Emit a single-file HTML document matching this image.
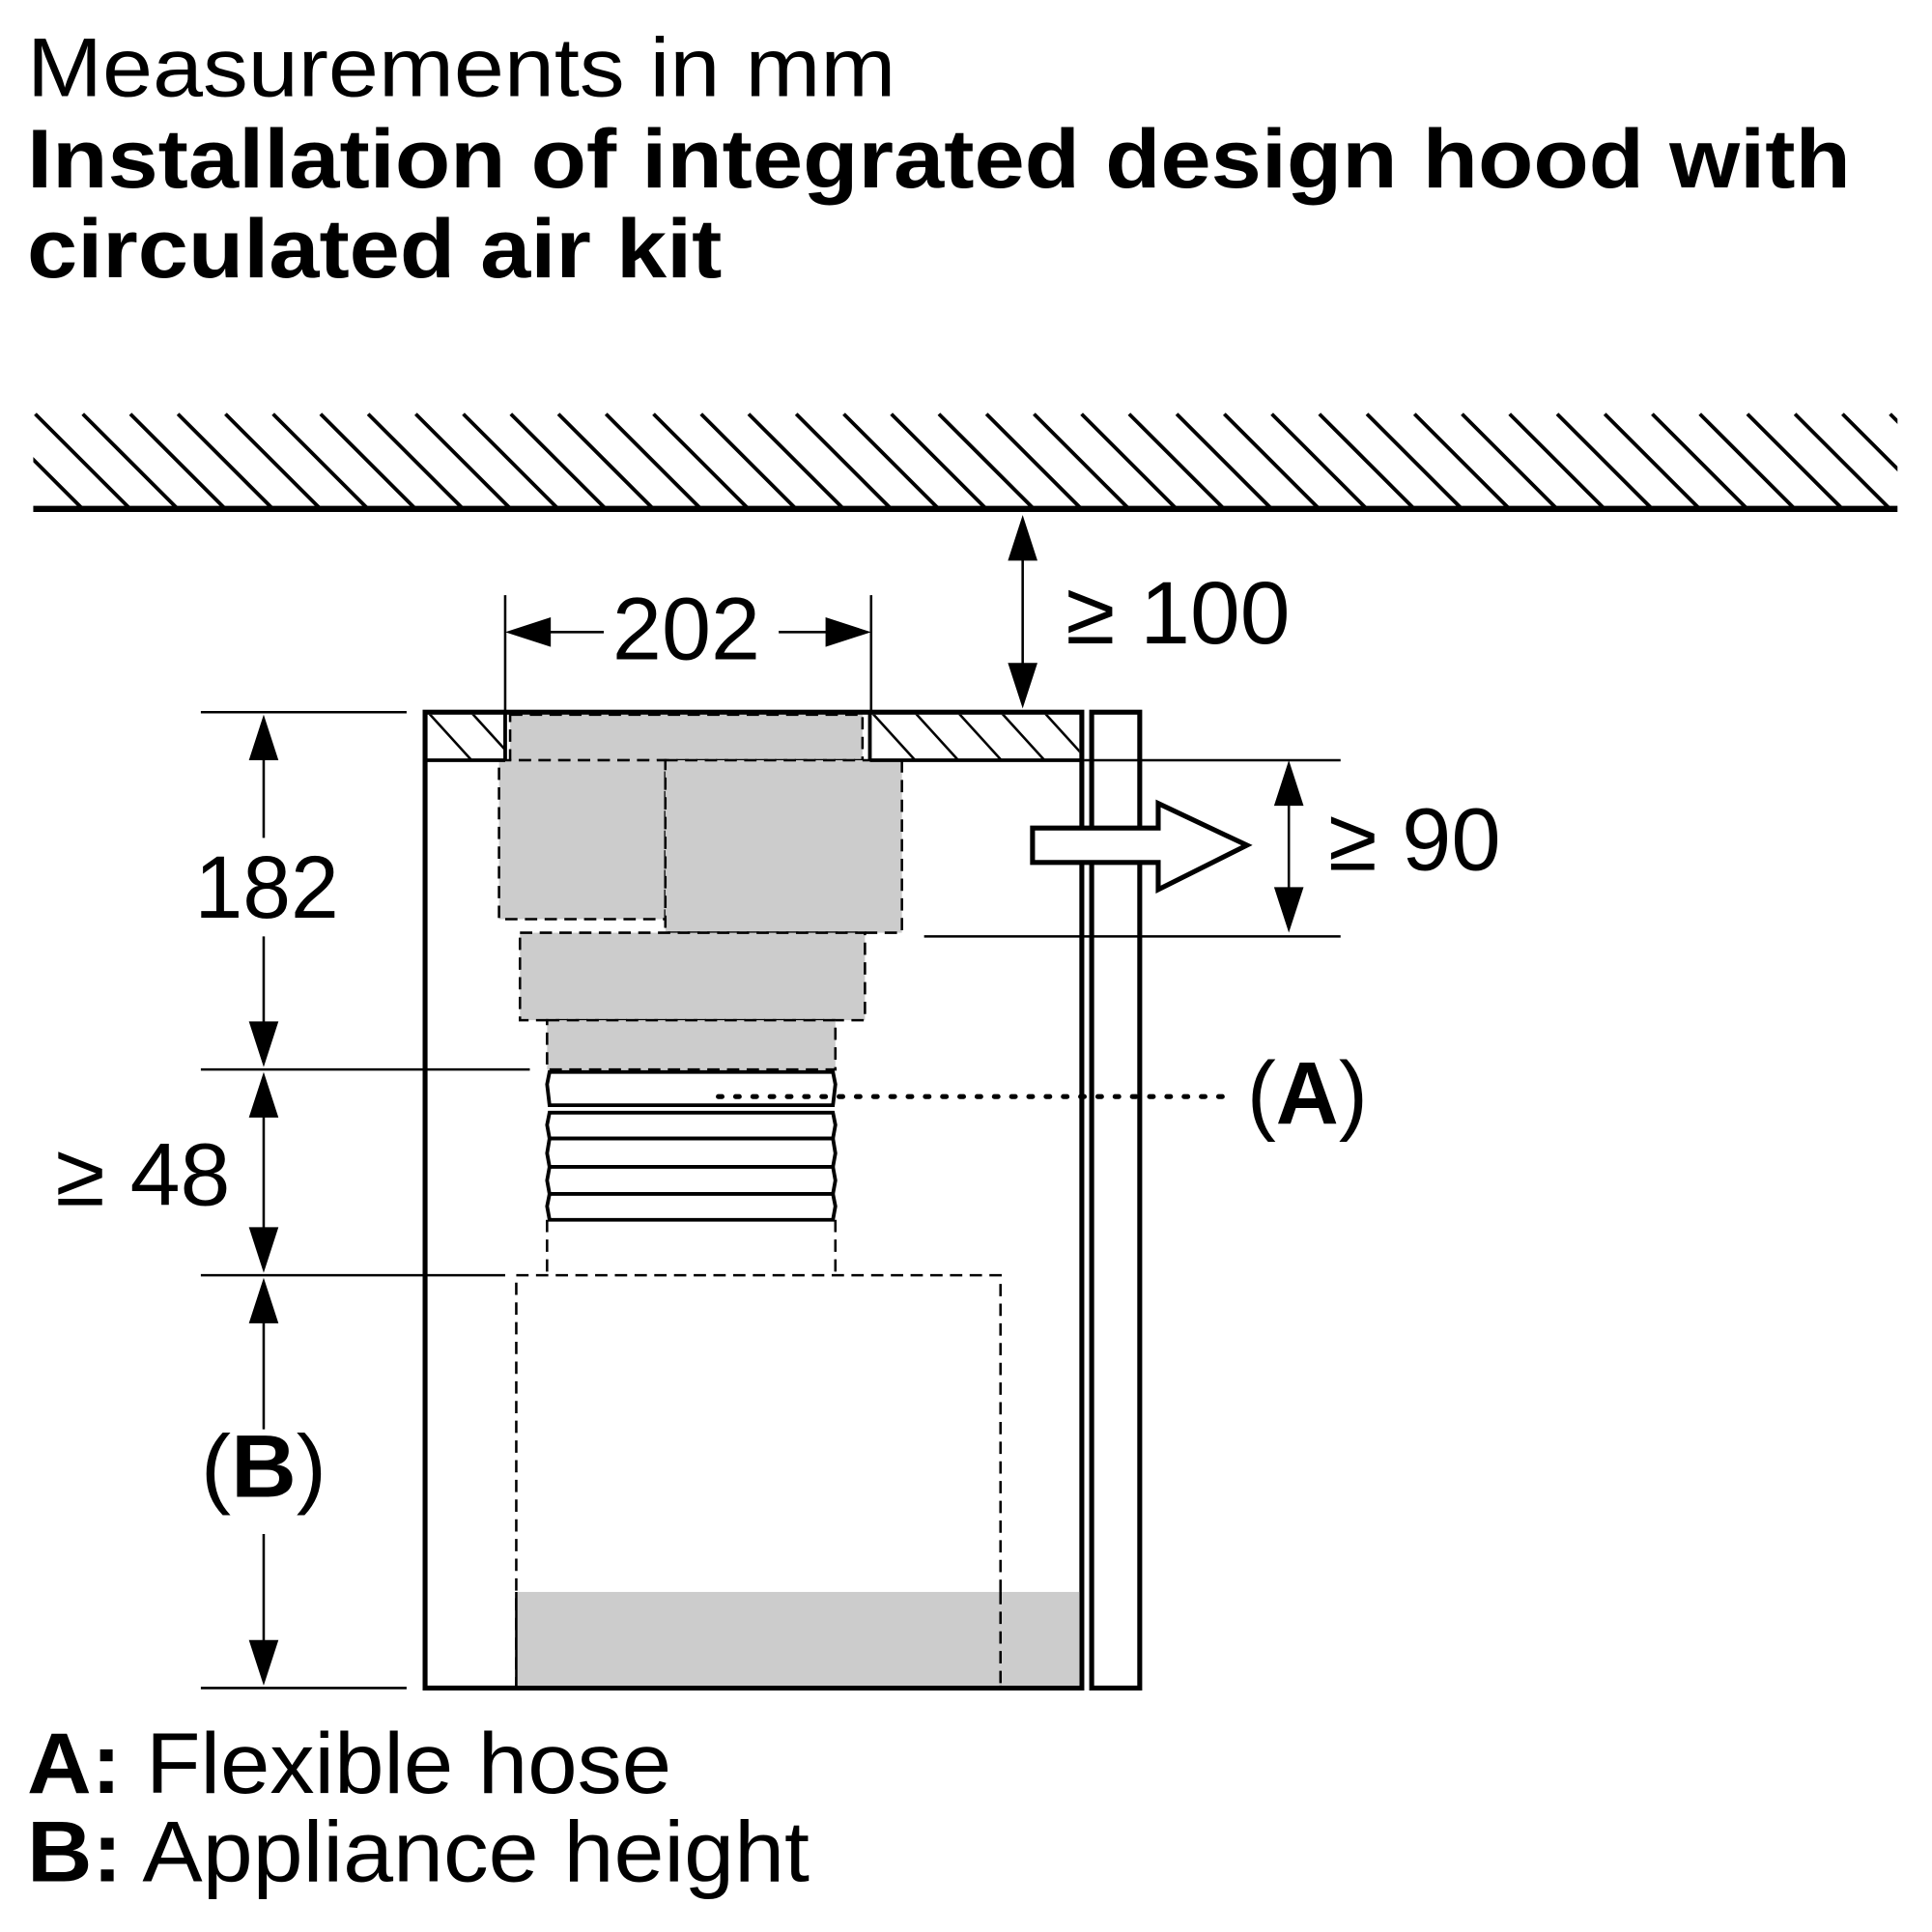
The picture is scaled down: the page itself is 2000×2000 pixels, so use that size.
<!DOCTYPE html>
<html><head><meta charset="utf-8"><style>
html,body{margin:0;padding:0;background:#fff;}
svg{display:block;}
text{font-family:"Liberation Sans",sans-serif;fill:#000;}
</style></head><body>
<svg width="2000" height="2000" viewBox="0 0 1568 1568" xmlns="http://www.w3.org/2000/svg">
<defs>
<clipPath id="ceil"><rect x="27" y="335" width="1513" height="76"/></clipPath>
<clipPath id="p1"><rect x="347" y="580" width="63" height="36"/></clipPath>
<clipPath id="p2"><rect x="707" y="580" width="169" height="36"/></clipPath>
</defs>
<text x="22" y="78" font-size="68" textLength="705" lengthAdjust="spacingAndGlyphs">Measurements in mm</text>
<text x="22" y="152" font-size="68" font-weight="bold" textLength="1480" lengthAdjust="spacingAndGlyphs">Installation of integrated design hood with</text>
<text x="22" y="225" font-size="68" font-weight="bold" textLength="564" lengthAdjust="spacingAndGlyphs">circulated air kit</text>

<g clip-path="url(#ceil)" stroke="#000" stroke-width="3" id="hatch"></g>
<line x1="27" y1="413" x2="1540" y2="413" stroke="#000" stroke-width="5"/>

<g fill="#cccccc" stroke="#000" stroke-width="2" stroke-dasharray="10,6">
<rect x="414" y="580" width="286" height="37"/>
<rect x="405" y="617" width="135" height="129"/>
<rect x="540" y="617" width="192" height="140"/>
<rect x="422" y="757" width="280" height="71"/>
<rect x="444" y="828" width="234" height="40"/>
</g>
<rect x="345" y="578" width="533" height="792" fill="none" stroke="#000" stroke-width="4"/>
<line x1="345" y1="617" x2="410" y2="617" stroke="#000" stroke-width="3"/>
<line x1="706" y1="617" x2="878" y2="617" stroke="#000" stroke-width="3"/>
<line x1="410" y1="578" x2="410" y2="617" stroke="#000" stroke-width="3"/>
<line x1="706" y1="578" x2="706" y2="617" stroke="#000" stroke-width="3"/>
<g stroke="#000" stroke-width="2" clip-path="url(#p1)">
<line x1="340" y1="570" x2="390" y2="625"/><line x1="375" y1="570" x2="425" y2="625"/>
</g>
<g stroke="#000" stroke-width="2" clip-path="url(#p2)">
<line x1="700" y1="570" x2="750" y2="625"/><line x1="735" y1="570" x2="785" y2="625"/>
<line x1="770" y1="570" x2="820" y2="625"/><line x1="805" y1="570" x2="855" y2="625"/>
<line x1="840" y1="570" x2="890" y2="625"/>
</g>
<rect x="886" y="578" width="39" height="792" fill="none" stroke="#000" stroke-width="4"/>

<g fill="#fff" stroke="#000" stroke-width="3">
<polygon points="446,870 676,870 678,880 676,897 446,897 444,880"/>
<polygon points="446,903 676,903 678,913 676,924 446,924 444,913"/>
<polygon points="446,924 676,924 678,936 676,947 446,947 444,936"/>
<polygon points="446,947 676,947 678,958 676,969 446,969 444,958"/>
<polygon points="446,969 676,969 678,979 676,990 446,990 444,979"/>
</g>
<g stroke="#000" stroke-width="2" stroke-dasharray="10,6" fill="none">
<line x1="444" y1="990" x2="444" y2="1035"/><line x1="678" y1="990" x2="678" y2="1035"/>
<rect x="419" y="1035" width="393" height="335"/>
</g>
<rect x="419" y="1292" width="457" height="76" fill="#cccccc"/>
<line x1="419" y1="1292" x2="419" y2="1370" stroke="#000" stroke-width="2"/>
<line x1="812" y1="1292" x2="812" y2="1370" stroke="#000" stroke-width="2" stroke-dasharray="10,6"/>

<line x1="583" y1="890" x2="995" y2="890" stroke="#000" stroke-width="4" stroke-dasharray="3,11" stroke-linecap="round"/>
<text x="1012" y="912" font-size="72" textLength="98" lengthAdjust="spacingAndGlyphs">(<tspan font-weight="bold">A</tspan>)</text>

<polygon points="838,672 940,672 940,652 1012,686 940,722 940,700 838,700" fill="#fff" stroke="#000" stroke-width="4"/>
<line x1="880" y1="617" x2="1088" y2="617" stroke="#000" stroke-width="2"/>
<line x1="750" y1="760" x2="1088" y2="760" stroke="#000" stroke-width="2"/>

<g stroke="#000" stroke-width="2" fill="none">
<line x1="410" y1="483" x2="410" y2="578"/><line x1="707" y1="483" x2="707" y2="578"/>
<line x1="445" y1="513" x2="490" y2="513"/><line x1="632" y1="513" x2="672" y2="513"/>
<line x1="830" y1="450" x2="830" y2="545"/>
<line x1="1046" y1="650" x2="1046" y2="725"/>
<line x1="163" y1="578" x2="330" y2="578"/>
<line x1="163" y1="868" x2="430" y2="868"/>
<line x1="163" y1="1035" x2="410" y2="1035"/>
<line x1="163" y1="1370" x2="330" y2="1370"/>
<line x1="214" y1="615" x2="214" y2="680"/><line x1="214" y1="760" x2="214" y2="832"/>
<line x1="214" y1="905" x2="214" y2="998"/>
<line x1="214" y1="1072" x2="214" y2="1160"/><line x1="214" y1="1245" x2="214" y2="1333"/>
</g>
<g fill="#000">
<polygon points="410,513 447,501 447,525"/><polygon points="707,513 670,501 670,525"/>
<polygon points="830,418 818,455 842,455"/><polygon points="830,575 818,538 842,538"/>
<polygon points="1046,617 1034,654 1058,654"/><polygon points="1046,757 1034,720 1058,720"/>
<polygon points="214,580 202,617 226,617"/><polygon points="214,866 202,829 226,829"/>
<polygon points="214,870 202,907 226,907"/><polygon points="214,1033 202,996 226,996"/>
<polygon points="214,1037 202,1074 226,1074"/><polygon points="214,1368 202,1331 226,1331"/>
</g>
<text x="497" y="535" font-size="72" textLength="120" lengthAdjust="spacingAndGlyphs">202</text>
<text x="865" y="522" font-size="72" textLength="182" lengthAdjust="spacingAndGlyphs">≥ 100</text>
<text x="1078" y="706" font-size="72" textLength="140" lengthAdjust="spacingAndGlyphs">≥ 90</text>
<text x="158" y="745" font-size="72" textLength="117" lengthAdjust="spacingAndGlyphs">182</text>
<text x="45" y="978" font-size="72" textLength="142" lengthAdjust="spacingAndGlyphs">≥ 48</text>
<text x="163" y="1215" font-size="72" textLength="102" lengthAdjust="spacingAndGlyphs">(<tspan font-weight="bold">B</tspan>)</text>

<text x="22" y="1455" font-size="70" textLength="523" lengthAdjust="spacingAndGlyphs"><tspan font-weight="bold">A:</tspan> Flexible hose</text>
<text x="22" y="1527" font-size="70" textLength="635" lengthAdjust="spacingAndGlyphs"><tspan font-weight="bold">B:</tspan> Appliance height</text>
</svg>
<script>
var g=document.getElementById('hatch');var s='';
for(var x=-10;x<1560;x+=38.6){s+='<line x1="'+x+'" y1="336" x2="'+(x+76)+'" y2="412"/>';}
g.innerHTML=s;
</script>
</body></html>
